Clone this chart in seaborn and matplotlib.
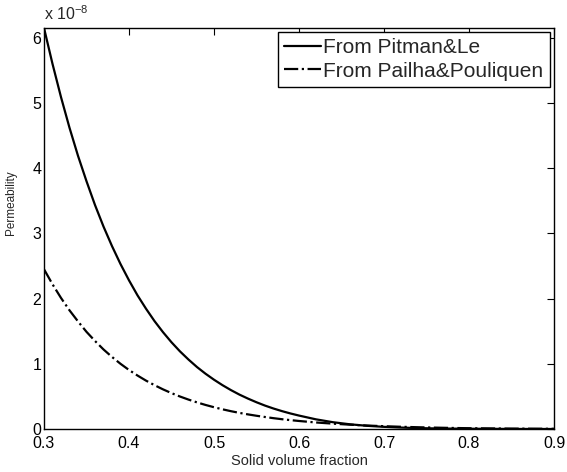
import numpy as np
import pandas as pd
import matplotlib
matplotlib.use("Agg")
import matplotlib.pyplot as plt
import seaborn as sns
from matplotlib.ticker import FuncFormatter

# values, permeability in units of 1e-8
phi = [0.30, 0.31, 0.32, 0.33, 0.34, 0.35, 0.36, 0.37, 0.38, 0.39,
       0.40, 0.41, 0.42, 0.43, 0.44, 0.45, 0.46, 0.47, 0.48, 0.49,
       0.50, 0.51, 0.52, 0.53, 0.54, 0.55, 0.56, 0.57, 0.58, 0.59,
       0.60, 0.62, 0.64, 0.66, 0.68, 0.70, 0.72, 0.74, 0.76, 0.78,
       0.80, 0.85, 0.90]
k_pitman = [6.15, 5.60, 5.09, 4.62, 4.19, 3.80, 3.435, 3.105, 2.805, 2.53,
            2.28, 2.05, 1.845, 1.655, 1.485, 1.33, 1.19, 1.065, 0.95, 0.848,
            0.756, 0.672, 0.596, 0.527, 0.466, 0.41, 0.359, 0.314, 0.274, 0.238,
            0.206, 0.148, 0.104, 0.072, 0.049, 0.033, 0.022, 0.014, 0.009, 0.006,
            0.004, 0.001, 0.0]
k_pailha = [2.45, 2.22, 2.01, 1.82, 1.65, 1.49, 1.35, 1.22, 1.105, 1.00,
            0.905, 0.82, 0.742, 0.672, 0.608, 0.55, 0.498, 0.451, 0.408, 0.369,
            0.334, 0.302, 0.273, 0.247, 0.224, 0.203, 0.184, 0.166, 0.15, 0.136,
            0.123, 0.10, 0.082, 0.066, 0.053, 0.043, 0.034, 0.027, 0.021, 0.016,
            0.012, 0.006, 0.003]
labels = ["From Pitman&Le", "From Pailha&Pouliquen"]
scale = 1e-8

df = pd.DataFrame({
    "phi": phi * 2,
    "k": [v * scale for v in k_pitman + k_pailha],
    "src": [labels[0]] * len(phi) + [labels[1]] * len(phi),
})

sns.set_theme(style="white")
plt.rcParams["font.family"] = ["Liberation Sans", "DejaVu Sans"]
plt.rcParams["mathtext.fontset"] = "custom"
plt.rcParams["mathtext.rm"] = "Liberation Sans"

fig = plt.figure(figsize=(5.67, 4.72), dpi=100)
ax = fig.add_axes([0.0776, 0.0911, 0.8995, 0.8496])

sns.lineplot(data=df[df.src == labels[0]], x="phi", y="k", ax=ax,
             color="black", linewidth=1.6, linestyle="-", label=labels[0])
sns.lineplot(data=df[df.src == labels[1]], x="phi", y="k", ax=ax,
             color="black", linewidth=1.6, linestyle="-.", label=labels[1])

ax.set_xlim(0.3, 0.9)
ax.set_ylim(0, 6.15e-8)
ax.set_xticks(np.arange(0.3, 0.91, 0.1))
ax.set_yticks(np.arange(0, 7) * scale)
ax.xaxis.set_major_formatter(FuncFormatter(lambda v, p: f"{v:.1f}"))
ax.yaxis.set_major_formatter(FuncFormatter(lambda v, p: f"{v / scale:.0f}"))
ax.tick_params(direction="in", length=5, width=0.8, top=True, right=True,
               labelsize=11.5, colors="black", pad=2)
ax.tick_params(axis="x", pad=5)
for s in ax.spines.values():
    s.set_color("black")
    s.set_linewidth(1.0)

ax.set_xlabel("Solid volume fraction", fontsize=10.5, labelpad=2)
ax.set_ylabel("Permeability", fontsize=8.5, labelpad=6)
ax.yaxis.set_label_coords(-0.052, 0.565)
ax.text(0.0, 1.012, r"x $10^{-8}$", transform=ax.transAxes,
        fontsize=11.5, ha="left", va="bottom")

leg = ax.legend(loc="upper right", fontsize=15, frameon=True, fancybox=False,
                framealpha=1, edgecolor="black", borderpad=0.3,
                handlelength=1.8, handletextpad=0.1, labelspacing=0.2,
                borderaxespad=0.2)
leg.get_frame().set_linewidth(1.0)

fig.savefig("out.png", dpi=100)
